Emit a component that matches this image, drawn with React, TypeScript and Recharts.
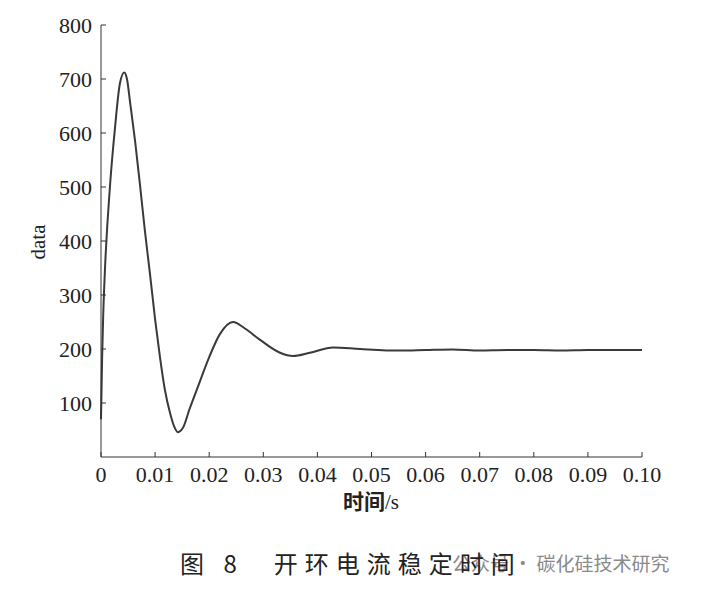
import { LineChart, Line, XAxis, YAxis } from 'recharts'

// values (time in s, current)
const timeS = [
  0, 0.0002, 0.0004, 0.0007, 0.0017, 0.0026, 0.0035, 0.0043, 0.0048, 0.0054, 0.0063, 0.0072,
  0.0081, 0.0091, 0.01, 0.0109, 0.0118, 0.0128, 0.0135, 0.0142, 0.0152, 0.0163, 0.0181, 0.02,
  0.022, 0.0244, 0.0266, 0.0294, 0.0331, 0.0355, 0.0386, 0.0429, 0.0479, 0.0553, 0.06, 0.065,
  0.07, 0.075, 0.08, 0.085, 0.09, 0.095, 0.1,
]
const current = [
  70, 180, 260, 340, 507, 611, 692, 712, 700, 655, 585, 505,
  420, 335, 255, 185, 125, 80, 57, 46, 55, 87, 135, 185,
  228, 250, 238, 217, 193, 187, 193, 203, 200, 197, 198, 199,
  197, 198, 198, 197, 198, 198, 198,
]
const xTicks = [0, 0.01, 0.02, 0.03, 0.04, 0.05, 0.06, 0.07, 0.08, 0.09, 0.1]
const yTicks = [100, 200, 300, 400, 500, 600, 700, 800]

const data = timeS.map((t, i) => ({ t, v: current[i] }))

const serif = '"Liberation Serif", "DejaVu Serif", serif'
const cjk = '"Noto Sans CJK SC", sans-serif'

export default function App() {
  return (
    <div style={{ position: 'absolute', left: 0, top: 0, width: 708, height: 591, background: '#fff' }}>
      <LineChart width={708} height={591} data={data} margin={{ top: 25, right: 66, bottom: 104, left: 41 }}>
        <XAxis
          dataKey="t"
          type="number"
          domain={[0, 0.1]}
          ticks={xTicks}
          interval={0}
          tickFormatter={(v: number) => (v === 0 ? '0' : v.toFixed(2))}
          height={30}
          stroke="#333"
          tickSize={-5}
          tickMargin={14}
          tick={{ fontSize: 22, fontFamily: serif, fill: '#222' }}
        />
        <YAxis
          type="number"
          domain={[0, 800]}
          ticks={yTicks}
          interval={0}
          width={60}
          stroke="#333"
          tickSize={-5}
          tickMargin={14}
          tick={{ fontSize: 22, fontFamily: serif, fill: '#222' }}
        />
        <Line
          type="monotone"
          dataKey="v"
          stroke="#3a3a3a"
          strokeWidth={2}
          dot={false}
          isAnimationActive={false}
        />
      </LineChart>

      <div
        style={{
          position: 'absolute', left: 38, top: 242, transform: 'translate(-50%, -50%) rotate(-90deg)',
          fontFamily: serif, fontSize: 21, color: '#222',
        }}
      >
        data
      </div>
      <div
        style={{
          position: 'absolute', left: 371, top: 500, transform: 'translate(-50%, -50%)',
          fontSize: 21, color: '#222', whiteSpace: 'nowrap',
        }}
      >
        <span style={{ fontFamily: cjk, fontWeight: 700 }}>时间</span>
        <span style={{ fontFamily: serif }}>/s</span>
      </div>
      <div
        style={{
          position: 'absolute', left: 452, top: 562, transform: 'translateY(-50%)',
          fontFamily: cjk, fontSize: 19, color: '#8a8a8a', whiteSpace: 'nowrap',
        }}
      >
        公众号 · 碳化硅技术研究
      </div>
      <div
        style={{
          position: 'absolute', left: 180, top: 562, transform: 'translateY(-50%)',
          fontFamily: cjk, fontSize: 24, color: '#222', whiteSpace: 'nowrap', letterSpacing: 7,
        }}
      >
        图 8<span style={{ display: 'inline-block', width: 30 }} />开环电流稳定时间
      </div>
    </div>
  )
}
